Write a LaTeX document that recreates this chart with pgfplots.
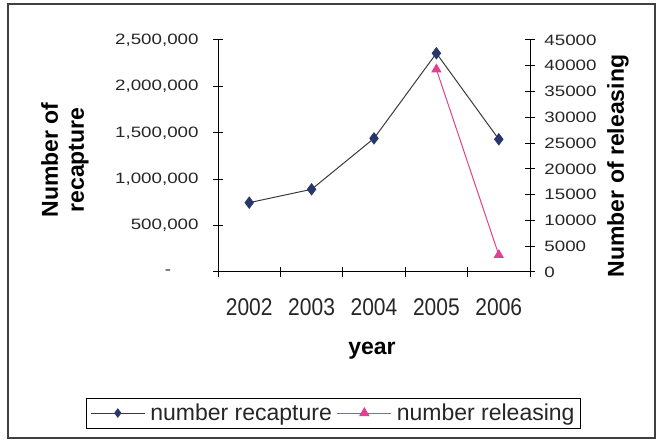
\documentclass[border=0pt]{standalone}
\usepackage{pgfplots}
\pgfplotsset{compat=1.18}
\usepackage{fontspec}
\setmainfont{Liberation Sans}
\definecolor{navy}{HTML}{27376A}
\definecolor{pinkr}{HTML}{E2408F}
\definecolor{lineg}{HTML}{3A3A3A}
\begin{document}
\begin{tikzpicture}[x=1pt,y=1pt]
\useasboundingbox (0,0) rectangle (662,443);
\draw[line width=1.5pt, gray!50!black] (8,5) rectangle (655,439);
\pgfplotsset{
 common/.style={
  scale only axis, width=312pt, height=232pt,
  at={(218pt,171pt)}, anchor=south west,
  axis line style={-, line width=1pt, black},
  major tick length=10pt,
  tick style={line width=1pt, black},
  xmin=2001.5, xmax=2006.5,
  scaled y ticks=false,
 },
 recstyle/.style={lineg, line width=1pt, mark=diamond*, mark size=5.5pt, mark options={fill=navy, draw=navy}},
 relstyle/.style={pinkr, line width=1pt, mark=triangle*, mark size=5pt, mark options={fill=pinkr, draw=pinkr}},
}
\begin{axis}[common,
  axis x line*=bottom, axis y line*=left,
  tick align=center,
  xtick={2001.5,2002.5,2003.5,2004.5,2005.5,2006.5},
  x tick label as interval,
  xticklabels={2002,2003,2004,2005,2006},
  xticklabel style={font=\fontsize{21}{24}\selectfont, yscale=1.15, yshift=-15pt, text=black!85},
  ymin=0, ymax=2500000,
  ytick={0,500000,1000000,1500000,2000000,2500000},
  yticklabels={{-\hspace*{22pt}},{500,000},{1,000,000},{1,500,000},{2,000,000},{2,500,000}},
  yticklabel style={font=\fontsize{15}{18}\selectfont, xscale=1.25, xshift=-8pt, text=black!85},
]
\addplot[recstyle] coordinates {(2002,747000) (2003,891000) (2004,1440000) (2005,2357000) (2006,1430000)};
\end{axis}
\begin{axis}[common,
  axis y line*=right, axis x line=none,
  tick align=center,
  ymin=0, ymax=45000,
  ytick={0,5000,10000,15000,20000,25000,30000,35000,40000,45000},
  yticklabels={0,5000,10000,15000,20000,25000,30000,35000,40000,45000},
  yticklabel style={font=\fontsize{15}{18}\selectfont, xscale=1.25, xshift=4pt, text=black!85},
  legend columns=2,
  legend cell align=left,
  legend style={at={(0.37,-0.608)}, anchor=center, draw=black, line width=0.8pt,
    font=\fontsize{23}{27}\selectfont, inner sep=4pt, column sep=3pt, text=black!85},
  legend image code/.code={\draw[mark repeat=2,mark phase=2,#1] plot coordinates {(0pt,0pt) (27pt,0pt) (54pt,0pt)};},
]
\addlegendimage{recstyle, mark size=4pt}
\addlegendentry{number recapture}
\addplot[relstyle] coordinates {(2005,39300) (2006,3300)};
\addlegendentry{number releasing}
\end{axis}
\node[rotate=90, align=center, font=\bfseries\fontsize{23}{26}\selectfont] at (65,283) {Number of\\recapture};
\node[rotate=90, font=\bfseries\fontsize{23}{26}\selectfont] at (618,277) {Number of releasing};
\node[anchor=base, font=\bfseries\fontsize{23}{26}\selectfont] at (372,88) {year};
\end{tikzpicture}
\end{document}
